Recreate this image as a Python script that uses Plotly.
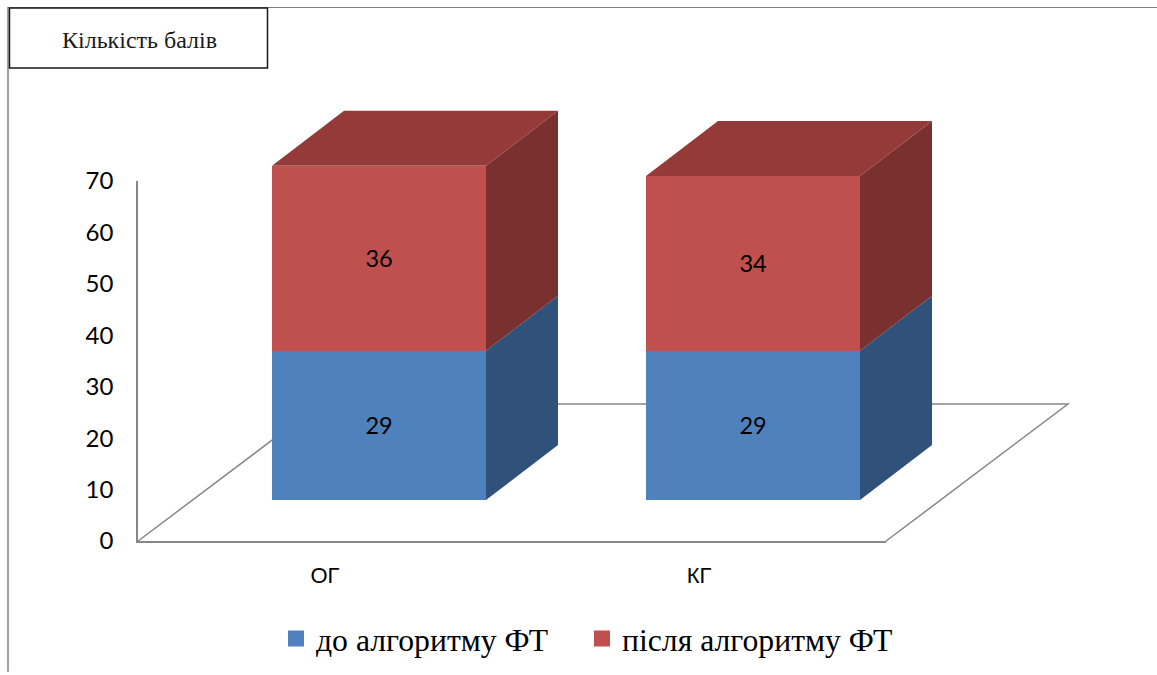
import plotly.graph_objects as go

categories = ["ОГ", "КГ"]
before = [29, 29]
after = [36, 34]
y_ticks = [0, 10, 20, 30, 40, 50, 60, 70]
series_names = ["до алгоритму ФТ", "після алгоритму ФТ"]
title_text = "Кількість балів"

W, H = 1157, 675
PX_PER_UNIT = 5.143
BAR_BASE_Y = 500         # pixel of value 0 on the front of the bars
CENTER0, STEP = 379, 374 # pixel centre of first bar, spacing
BAR_W = 214 / 374
DX, DY = 72 / 374, 55 / PX_PER_UNIT   # depth offset of the box, in axis units

BLUE, BLUE_SIDE = "#4F81BD", "#30527A"
RED, RED_SIDE, RED_TOP = "#C0504D", "#7A302E", "#943B39"
GREY = "#868686"

xr = [-CENTER0 / STEP, (W - CENTER0) / STEP]
yr = [-(H - BAR_BASE_Y) / PX_PER_UNIT, BAR_BASE_Y / PX_PER_UNIT]

fig = go.Figure()
idx = list(range(len(categories)))

# front faces
fig.add_bar(x=idx, y=before, width=BAR_W, name=series_names[0], marker=dict(color=BLUE, line_width=0),
            text=before, textposition="inside", insidetextanchor="middle", textangle=0, showlegend=False,
            textfont=dict(family="Lato", size=23.5, color="#000000"), hoverinfo="skip")
fig.add_bar(x=idx, y=after, width=BAR_W, name=series_names[1], marker=dict(color=RED, line_width=0),
            text=after, textposition="inside", insidetextanchor="middle", textangle=0, showlegend=False,
            textfont=dict(family="Lato", size=23.5, color="#000000"), hoverinfo="skip")

# legend entries with the larger swatch of the reference
for name, color, lg in zip(series_names, [BLUE, RED], ["legend", "legend2"]):
    fig.add_bar(x=[None], y=[None], name=name, legend=lg,
                marker=dict(color=color, line=dict(color=color, width=4)), hoverinfo="skip")

# side and top faces, derived from the same values
def poly(xs, ys, color):
    fig.add_scatter(x=xs, y=ys, fill="toself", fillcolor=color, mode="lines", line=dict(width=0, color=color),
                    showlegend=False, hoverinfo="skip")

for i in idx:
    right = i + BAR_W / 2
    left = i - BAR_W / 2
    b, t = before[i], before[i] + after[i]
    poly([right, right + DX, right + DX, right, right], [0, DY, b + DY, b, 0], BLUE_SIDE)
    poly([right, right + DX, right + DX, right, right], [b, b + DY, t + DY, t, b], RED_SIDE)
    poly([left, left + DX, right + DX, right, left], [t, t + DY, t + DY, t, t], RED_TOP)

# helper trace so the visible axes exist
fig.add_scatter(x=categories, y=[0, 0], xaxis="x2", yaxis="y2", mode="markers",
                marker=dict(opacity=0), showlegend=False, hoverinfo="skip")

def px(p):  # pixel x to axis x
    return (p - CENTER0) / STEP
def py(p):  # pixel y to axis y
    return (BAR_BASE_Y - p) / PX_PER_UNIT

floor = [(137.5, 541.5), (320, 404), (1068, 404), (885.5, 541.5)]
floor_path = "M " + " L ".join(f"{px(a)},{py(b)}" for a, b in floor)

shapes = [
    dict(type="path", path=floor_path, xref="x", yref="y", layer="below", line=dict(color=GREY, width=1.5)),
    dict(type="line", xref="paper", yref="paper", x0=8 / W, x1=8 / W, y0=0.005, y1=1 - 7 / H, line=dict(color="#808080", width=1.5)),
    dict(type="line", xref="paper", yref="paper", x0=8 / W, x1=1, y0=1 - 7.5 / H, y1=1 - 7.5 / H, line=dict(color="#808080", width=1)),
    dict(type="rect", xref="paper", yref="paper", x0=9.5 / W, x1=267.5 / W, y0=1 - 68 / H, y1=1 - 8 / H,
         fillcolor="white", line=dict(color="#1a1a1a", width=1.5)),
]

legend_style = dict(orientation="h", xanchor="left", yanchor="middle", y=1 - 639 / H,
                    font=dict(family="Liberation Serif", size=31.7, color="#000000"), bgcolor="rgba(0,0,0,0)")

fig.update_layout(
    width=W, height=H, autosize=False, margin=dict(l=0, r=0, t=0, b=0, pad=0),
    paper_bgcolor="white", plot_bgcolor="rgba(0,0,0,0)", barmode="stack", shapes=shapes,
    xaxis=dict(range=xr, domain=[0, 1], visible=False, fixedrange=True, automargin=False),
    yaxis=dict(range=yr, domain=[0, 1], visible=False, fixedrange=True, automargin=False),
    xaxis2=dict(anchor="y2", type="category", range=[-0.5, 1.5], domain=[138 / W, 886 / W], automargin=False,
                showline=True, linecolor=GREY, linewidth=1.5, ticks="", showgrid=False, zeroline=False,
                tickfont=dict(family="Liberation Sans", size=22, color="#000000"), ticklabelstandoff=14),
    yaxis2=dict(anchor="x2", range=[0, 70], tickvals=y_ticks, automargin=False,
                domain=[(H - 541) / H, (H - 181) / H],
                showline=True, linecolor=GREY, linewidth=1.5, ticks="", showgrid=False, zeroline=False,
                tickfont=dict(family="Lato", size=24, color="#000000"), ticklabelstandoff=18),
    legend=dict(x=276 / W, **legend_style),
    legend2=dict(x=582 / W, **legend_style),
    annotations=[dict(text=title_text, xref="paper", yref="paper", x=139 / W, y=1 - 40 / H, showarrow=False,
                      xanchor="center", yanchor="middle",
                      font=dict(family="Liberation Serif", size=24, color="#1a1a1a"))],
    showlegend=True,
)

fig.write_html("out.html", config=dict(displayModeBar=False), post_script="document.body.style.margin='0';")
